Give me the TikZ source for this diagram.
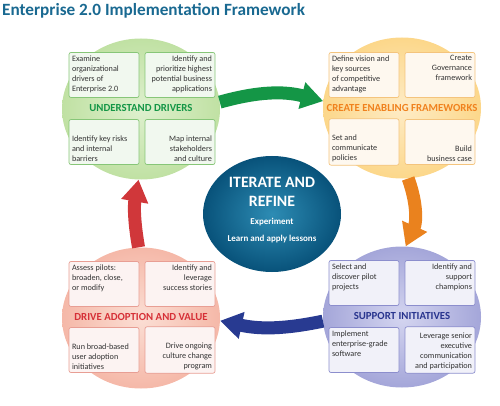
\documentclass[tikz,border=0pt]{standalone}
\usepackage{fontspec}
\setmainfont{Carlito}
\usetikzlibrary{shapes.geometric,arrows.meta}

\definecolor{ttlc}{RGB}{25,105,145}
\definecolor{drvin}{RGB}{222,240,206}
\definecolor{drvout}{RGB}{192,225,163}
\definecolor{drvln}{RGB}{135,198,120}
\definecolor{drvtx}{RGB}{20,150,70}
\definecolor{frmin}{RGB}{254,236,198}
\definecolor{frmout}{RGB}{252,215,138}
\definecolor{frmln}{RGB}{244,196,125}
\definecolor{frmtx}{RGB}{240,130,30}
\definecolor{adpin}{RGB}{251,222,212}
\definecolor{adpout}{RGB}{245,184,168}
\definecolor{adpln}{RGB}{232,158,148}
\definecolor{adptx}{RGB}{214,48,55}
\definecolor{supin}{RGB}{212,213,240}
\definecolor{supout}{RGB}{164,166,217}
\definecolor{supln}{RGB}{140,142,205}
\definecolor{suptx}{RGB}{40,52,142}
\definecolor{itrin}{RGB}{45,140,180}
\definecolor{itrout}{RGB}{8,82,122}
\definecolor{arrg}{RGB}{20,150,70}
\definecolor{arro}{RGB}{234,130,30}
\definecolor{arrb}{RGB}{40,58,145}
\definecolor{arrr}{RGB}{208,55,58}

% box text: #1 = t/b, #2 = \raggedright/\raggedleft
\newcommand{\celltxt}[3]{\parbox[c][39pt][#1]{64pt}{\fontsize{8.2}{10}\selectfont#2 #3}}
\newcommand{\bigln}{\fontsize{15.8}{19}\selectfont}
\newcommand{\smlln}{\fontsize{9}{18}\selectfont}

\begin{document}
\begin{tikzpicture}[
            x=1pt, y=-1pt,
            stage/.style={ellipse, minimum width=158pt, minimum height=141pt, inner sep=0pt},
            cell/.style={draw=#1, fill=white!88!#1, line width=0.7pt, rounded corners=2pt,
                inner sep=3pt, text=black!80},
            head/.style={font=\fontsize{10.8}{12}\selectfont\bfseries, text=#1, inner sep=0pt},
            flow/.style={draw=#1, line width=13pt, -{Triangle[width=26pt,length=22pt]}}
        ]
        \useasboundingbox (0,0) rectangle (500,406);
        \node[anchor=west, inner sep=0pt, text=ttlc, font=\fontsize{17.2}{20}\selectfont\bfseries]
            (ttl) at (2,11) {Enterprise 2.0 Implementation Framework};

        \node[stage, inner color=drvin, outer color=drvout] (drv) at (141,109) {};
        \node[stage, inner color=frmin, outer color=frmout] (frm) at (402,108) {};
        \node[stage, inner color=adpin, outer color=adpout] (adp) at (141,318) {};
        \node[stage, inner color=supin, outer color=supout] (sup) at (402,317) {};

        \node[ellipse, minimum width=138pt, minimum height=116pt, inner sep=0pt,
            inner color=itrin, outer color=itrout] (itr) at (272,214) {};
        \node[text=white, align=center, font=\bfseries, inner sep=0pt, anchor=base] (itt) at (272,241)
            {\bigln ITERATE AND\\[7pt]\bigln REFINE\\[6pt]\smlln Experiment\\[5pt]\smlln Learn and apply lessons};

        \node[cell=drvln] (d1) at (104,75) {\celltxt{t}{\raggedright}{Examine\\organizational\\drivers of\\Enterprise 2.0}};
        \node[cell=drvln] (d2) at (180,75) {\celltxt{t}{\raggedleft}{Identify and\\prioritize highest\\potential business\\applications}};
        \node[cell=drvln] (d3) at (104,142) {\celltxt{b}{\raggedright}{Identify key risks\\and internal\\barriers}};
        \node[cell=drvln] (d4) at (180,142) {\celltxt{b}{\raggedleft}{Map internal\\stakeholders\\and culture}};
        \node[head=drvtx] (dh) at (141,108) {UNDERSTAND DRIVERS};

        \node[cell=frmln] (f1) at (364,75) {\celltxt{t}{\raggedright}{Define vision and\\key sources\\of competitive\\advantage}};
        \node[cell=frmln] (f2) at (440,75) {\celltxt{t}{\raggedleft}{Create\\Governance\\framework}};
        \node[cell=frmln] (f3) at (364,142) {\celltxt{b}{\raggedright}{Set and\\communicate\\policies}};
        \node[cell=frmln] (f4) at (440,142) {\celltxt{b}{\raggedleft}{Build\\business case}};
        \node[head=frmtx] (fh) at (402,108) {CREATE ENABLING FRAMEWORKS};

        \node[cell=adpln] (a1) at (104,284) {\celltxt{t}{\raggedright}{Assess pilots:\\broaden, close,\\or modify}};
        \node[cell=adpln] (a2) at (180,284) {\celltxt{t}{\raggedleft}{Identify and\\leverage\\success stories}};
        \node[cell=adpln] (a3) at (104,350) {\celltxt{b}{\raggedright}{Run broad-based\\user adoption\\initiatives}};
        \node[cell=adpln] (a4) at (180,350) {\celltxt{b}{\raggedleft}{Drive ongoing\\culture change\\program}};
        \node[head=adptx] (ah) at (141,317) {DRIVE ADOPTION AND VALUE};

        \node[cell=supln] (s1) at (364,283) {\celltxt{t}{\raggedright}{Select and\\discover pilot\\projects}};
        \node[cell=supln] (s2) at (440,283) {\celltxt{t}{\raggedleft}{Identify and\\support\\champions}};
        \node[cell=supln] (s3) at (364,350) {\celltxt{t}{\raggedright}{Implement\\enterprise-grade\\software}};
        \node[cell=supln] (s4) at (440,350) {\celltxt{b}{\raggedleft}{Leverage senior\\executive\\communication\\and participation}};
        \node[head=suptx] (sh) at (402,316) {SUPPORT INITIATIVES};

        \draw[flow=arrg] (drv.5) to[bend left=15] (frm.175);
        \draw[flow=arro] (frm.-85) to[bend left=22] (sup.87);
        \draw[flow=arrb] (sup.183) to[bend left=12] (adp.-2);
        \draw[flow=arrr] (adp.92) to[bend left=10] (drv.-92);
    \end{tikzpicture}
\end{document}
